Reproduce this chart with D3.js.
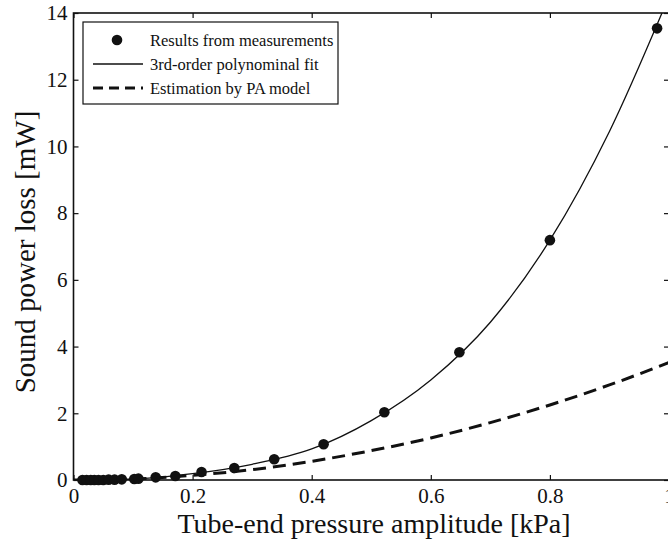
<!DOCTYPE html>
<html>
<head>
<meta charset="utf-8">
<script src="https://cdn.jsdelivr.net/npm/d3@7"></script>
<style>
  body { margin: 0; background: #fff; }
  svg, svg text { font-family: "Liberation Serif", "DejaVu Serif", serif; }
</style>
</head>
<body>
<div id="canvas"></div>
<script>
"use strict";

// Data

// measured points (kPa, mW)
let measX = [0.015, 0.022, 0.029, 0.035, 0.042, 0.050, 0.059, 0.069, 0.081, 0.102,
    0.109, 0.138, 0.171, 0.215, 0.270, 0.337, 0.420, 0.522, 0.648, 0.800, 0.980];
let measY = [0.0, 0.0, 0.0, 0.0, 0.0, 0.0, 0.01, 0.01, 0.02, 0.03,
    0.04, 0.08, 0.12, 0.24, 0.36, 0.62, 1.07, 2.03, 3.83, 7.19, 13.54];

// 3rd-order fit, sampled along the drawn curve
let fitX = [0, 0.1, 0.2, 0.3, 0.4, 0.5, 0.6, 0.7, 0.8, 0.9, 1.0];
let fitY = [0, 0.03, 0.19, 0.47, 0.93, 1.78, 3.0, 4.73, 7.19, 10.45, 14.5];

// PA model estimate, sampled along the dashed curve
let paX = [0, 0.1, 0.2, 0.3, 0.4, 0.5, 0.6, 0.7, 0.8, 0.9, 1.0];
let paY = [0, 0.03, 0.14, 0.31, 0.56, 0.88, 1.26, 1.72, 2.25, 2.85, 3.52];

let xTicks = [0, 0.2, 0.4, 0.6, 0.8, 1];
let yTicks = [0, 2, 4, 6, 8, 10, 12, 14];

let legendLabels = ["Results from measurements", "3rd-order polynominal fit", "Estimation by PA model"];

/*
   SVG setup
*/
let svgWidth = 668;
let svgHeight = 540;

let plotLeft = 73.5;
let plotRight = 669;
let plotTop = 13;
let plotBottom = 480;

let serif = "'Liberation Serif', 'DejaVu Serif', serif";

let svg = d3.select("#canvas")
    .append("svg")
    .attr("width", svgWidth)
    .attr("height", svgHeight);

// Scales
let xScale = d3.scaleLinear().domain([0, 1]).range([plotLeft, plotRight]);
let yScale = d3.scaleLinear().domain([0, 14]).range([plotBottom, plotTop]);

svg.append("clipPath")
    .attr("id", "plotClip")
    .append("rect")
    .attr("x", plotLeft)
    .attr("y", plotTop)
    .attr("width", plotRight - plotLeft)
    .attr("height", plotBottom - plotTop);

// Axes (MATLAB style: ticks inward on all four sides)
let tickFont = 21;

let bottomAxis = svg.append("g")
    .attr("transform", `translate(0, ${plotBottom})`)
    .call(d3.axisBottom(xScale).tickValues(xTicks).tickSize(-5).tickPadding(8)
        .tickFormat(d3.format("")));

let leftAxis = svg.append("g")
    .attr("transform", `translate(${plotLeft}, 0)`)
    .call(d3.axisLeft(yScale).tickValues(yTicks).tickSize(-5).tickPadding(6));

let topAxis = svg.append("g")
    .attr("transform", `translate(0, ${plotTop})`)
    .call(d3.axisTop(xScale).tickValues(xTicks).tickSize(-5).tickFormat(""));

let rightAxis = svg.append("g")
    .attr("transform", `translate(${plotRight}, 0)`)
    .call(d3.axisRight(yScale).tickValues(yTicks).tickSize(-5).tickFormat(""));

[bottomAxis, leftAxis, topAxis, rightAxis].forEach(g => {
    g.attr("font-family", null).attr("font-size", null);
    g.select(".domain").remove();
    g.selectAll("line").attr("stroke", "#111").attr("stroke-width", 1.2);
    g.selectAll("text")
        .style("font-family", serif)
        .style("font-size", tickFont + "px")
        .attr("fill", "#111");
});

// Frame
svg.append("rect")
    .attr("x", plotLeft)
    .attr("y", plotTop)
    .attr("width", plotRight - plotLeft)
    .attr("height", plotBottom - plotTop)
    .attr("fill", "none")
    .attr("stroke", "#111")
    .attr("stroke-width", 1.6);

// Curves
let plot = svg.append("g").attr("clip-path", "url(#plotClip)");

let lineGen = d3.line()
    .x(d => xScale(d[0]))
    .y(d => yScale(d[1]))
    .curve(d3.curveMonotoneX);

plot.append("path")
    .datum(paX.map((x, i) => [x, paY[i]]))
    .attr("d", lineGen)
    .attr("fill", "none")
    .attr("stroke", "#111")
    .attr("stroke-width", 3)
    .attr("stroke-dasharray", "13,7");

plot.append("path")
    .datum(fitX.map((x, i) => [x, fitY[i]]))
    .attr("d", lineGen)
    .attr("fill", "none")
    .attr("stroke", "#111")
    .attr("stroke-width", 1.3);

// Measurement dots
svg.append("g")
    .selectAll("circle")
    .data(measX.map((x, i) => [x, measY[i]]))
    .join("circle")
    .attr("cx", d => xScale(d[0]))
    .attr("cy", d => yScale(d[1]))
    .attr("r", 5.3)
    .attr("fill", "#111");

// Axis labels
svg.append("text")
    .attr("x", 374)
    .attr("y", 533)
    .attr("text-anchor", "middle")
    .style("font-family", serif)
    .style("font-size", "28px")
    .attr("fill", "#111")
    .text("Tube-end pressure amplitude [kPa]");

svg.append("text")
    .attr("transform", "translate(35, 252) rotate(-90)")
    .attr("text-anchor", "middle")
    .style("font-family", serif)
    .style("font-size", "29px")
    .attr("fill", "#111")
    .text("Sound power loss [mW]");

// Legend
let legendX = 83;
let legendY = 22;

svg.append("rect")
    .attr("x", legendX)
    .attr("y", legendY)
    .attr("width", 255)
    .attr("height", 82)
    .attr("fill", "#fff")
    .attr("stroke", "#111")
    .attr("stroke-width", 1.2);

legendLabels.forEach((label, i) => {
    let rowY = legendY + 18 + i * 24;

    if (i === 0) {
        svg.append("circle")
            .attr("cx", legendX + 34)
            .attr("cy", rowY)
            .attr("r", 5.3)
            .attr("fill", "#111");
    } else {
        svg.append("line")
            .attr("x1", legendX + 10)
            .attr("x2", legendX + 60)
            .attr("y1", rowY)
            .attr("y2", rowY)
            .attr("stroke", "#111")
            .attr("stroke-width", i === 1 ? 1.3 : 3)
            .attr("stroke-dasharray", i === 1 ? null : "10,6");
    }

    svg.append("text")
        .attr("x", legendX + 67)
        .attr("y", rowY + 6)
        .style("font-family", serif)
        .style("font-size", "16.5px")
        .attr("fill", "#111")
        .text(label);
});
</script>
</body>
</html>
